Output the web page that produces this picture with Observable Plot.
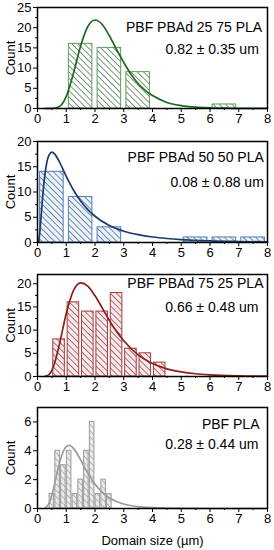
<!DOCTYPE html>
<html><head><meta charset="utf-8">
<script src="https://cdn.jsdelivr.net/npm/d3@7"></script>
<script src="https://cdn.jsdelivr.net/npm/@observablehq/plot@0.6"></script>
<style>
html,body{margin:0;padding:0;background:#fff;}
#chart{position:relative;width:274px;height:550px;overflow:hidden;background:#fff;}
#chart > svg{position:absolute;left:0;}
</style></head><body>
<svg width="0" height="0" style="position:absolute">
<defs>
<pattern id="h1" patternUnits="userSpaceOnUse" width="4.4" height="4.4" patternTransform="rotate(-45)">
<rect width="4.4" height="4.4" fill="#ffffff"/><line x1="2.2" y1="0" x2="2.2" y2="4.4" stroke="#5d7f5d" stroke-width="0.8"/></pattern>
<pattern id="h2" patternUnits="userSpaceOnUse" width="4.4" height="4.4" patternTransform="rotate(-45)">
<rect width="4.4" height="4.4" fill="#eaf2fb"/><line x1="2.2" y1="0" x2="2.2" y2="4.4" stroke="#55739a" stroke-width="0.8"/></pattern>
<pattern id="h3" patternUnits="userSpaceOnUse" width="4.4" height="4.4" patternTransform="rotate(-45)">
<rect width="4.4" height="4.4" fill="#fbe7ee"/><line x1="2.2" y1="0" x2="2.2" y2="4.4" stroke="#8e5a50" stroke-width="0.8"/></pattern>
<pattern id="h4" patternUnits="userSpaceOnUse" width="4.4" height="4.4" patternTransform="rotate(-45)">
<rect width="4.4" height="4.4" fill="#ebebeb"/><line x1="2.2" y1="0" x2="2.2" y2="4.4" stroke="#a8a8a8" stroke-width="0.8"/></pattern>
</defs></svg>
<div id="chart"></div>
<script>
// ---- data ----
const xTicks = [0, 1, 2, 3, 4, 5, 6, 7, 8];
const xMinorTicks = [0.5, 1.5, 2.5, 3.5, 4.5, 5.5, 6.5, 7.5];
const yLabel = "Count";
const xLabel = "Domain size (µm)";

const p1Title = "PBF PBAd 25 75 PLA";
const p1Stat = "0.82 ± 0.35 um";
const p1BinStart = [1, 2, 3, 6];
const p1BinWidth = 1;
const p1Counts = [16, 15, 9, 1];
const p1CurveX = [0.25, 0.5, 0.75, 1, 1.25, 1.5, 1.75, 2, 2.25, 2.5, 2.75, 3, 3.25, 3.5, 3.75, 4, 4.5, 5, 5.5, 6, 6.5, 7, 7.5, 8];
const p1CurveY = [0, 0.01, 0.42, 3.0, 8.7, 15.5, 20.3, 21.9, 20.8, 18.0, 14.6, 11.4, 8.5, 6.2, 4.5, 3.2, 1.5, 0.73, 0.35, 0.17, 0.08, 0.04, 0.02, 0.01];
const p1YTicks = [0, 5, 10, 15, 20, 25];
const p1YMinor = [2.5, 7.5, 12.5, 17.5, 22.5];

const p2Title = "PBF PBAd 50 50 PLA";
const p2Stat = "0.08 ± 0.88 um";
const p2BinStart = [0, 1, 2, 5, 6, 7];
const p2BinWidth = 1;
const p2Counts = [14, 9, 3, 1, 1, 1];
const p2CurveX = [0.02, 0.05, 0.1, 0.15, 0.2, 0.3, 0.4, 0.5, 0.6, 0.75, 1, 1.25, 1.5, 1.75, 2, 2.5, 3, 3.5, 4, 4.5, 5, 6, 7, 8];
const p2CurveY = [0.02, 0.58, 3.4, 7.0, 10.4, 15.1, 17.3, 17.9, 17.5, 16.1, 13.1, 10.4, 8.2, 6.5, 5.2, 3.35, 2.24, 1.55, 1.09, 0.79, 0.58, 0.33, 0.2, 0.12];
const p2YTicks = [0, 5, 10, 15, 20];
const p2YMinor = [2.5, 7.5, 12.5, 17.5];

const p3Title = "PBF PBAd 75 25 PLA";
const p3Stat = "0.66 ± 0.48 um";
const p3BinStart = [0.5, 1, 1.5, 2, 2.5, 3, 3.5, 4];
const p3BinWidth = 0.5;
const p3Counts = [8, 16, 14, 14, 18, 6, 5, 3];
const p3CurveX = [0.25, 0.4, 0.5, 0.6, 0.75, 1, 1.25, 1.5, 1.75, 2, 2.25, 2.5, 2.75, 3, 3.5, 4, 4.5, 5, 5.5, 6, 7, 8];
const p3CurveY = [0.02, 0.4, 1.3, 3.0, 6.6, 13.6, 18.5, 20.2, 19.5, 17.4, 14.8, 12.1, 9.7, 7.7, 4.65, 2.8, 1.65, 0.99, 0.59, 0.36, 0.14, 0.06];
const p3YTicks = [0, 5, 10, 15, 20];
const p3YMinor = [2.5, 7.5, 12.5, 17.5];

const p4Title = "PBF PLA";
const p4Stat = "0.28 ± 0.44 um";
const p4BinStart = [0.4, 0.6, 0.8, 1.0, 1.2, 1.4, 1.6, 1.8, 2.0, 2.2, 2.4];
const p4BinWidth = 0.2;
const p4Counts = [1, 4, 3, 4, 1, 2, 4, 6, 1, 2, 1];
const p4CurveX = [0.25, 0.4, 0.5, 0.6, 0.7, 0.8, 0.9, 1, 1.1, 1.2, 1.4, 1.6, 1.8, 2, 2.25, 2.5, 3, 3.5, 4, 5, 6, 7, 8];
const p4CurveY = [0.02, 0.33, 0.91, 1.74, 2.64, 3.42, 3.98, 4.29, 4.38, 4.28, 3.73, 2.99, 2.29, 1.69, 1.13, 0.74, 0.31, 0.13, 0.06, 0.01, 0, 0, 0];
const p4YTicks = [0, 2, 4, 6];
const p4YMinor = [1, 3, 5];

// ---- drawing ----
const FONT = "'Liberation Sans', Arial, Helvetica, sans-serif";
const fmt = d => String(d);

function panel(o) {
  const bars = o.starts.map((s, i) => ({x1: s, x2: s + o.bw, y: o.counts[i]}));
  const curve = o.cx.map((x, i) => ({x, y: o.cy[i]}));
  const marks = [
    Plot.rectY(bars, {x1: "x1", x2: "x2", y: "y", fill: `url(#${o.pat})`, stroke: o.edge, strokeWidth: 1, insetLeft: o.inset, insetRight: o.inset}),
    Plot.line(curve, {x: "x", y: "y", stroke: o.line, strokeWidth: 1.7, curve: "monotone-x"}),
    Plot.axisX({ticks: xTicks, tickFormat: fmt, tickSize: 4, tickPadding: 1, label: null, fontSize: 13}),
    Plot.axisX({ticks: xMinorTicks, tickSize: 2, text: null, label: null}),
    Plot.axisY({ticks: o.yTicks, tickFormat: fmt, tickSize: 4, tickPadding: 2, label: null, fontSize: 13}),
    Plot.axisY({ticks: o.yMinor, tickSize: 2, text: null, label: null}),
    Plot.frame({stroke: "#000", strokeWidth: 1.5}),
    Plot.text([yLabel], {text: d => d, frameAnchor: "left", textAnchor: "middle", lineAnchor: "middle", rotate: -90, dx: -27, fontSize: 13, fill: "#000"}),
    Plot.text([o.title], {text: d => d, frameAnchor: "top-right", textAnchor: "end", lineAnchor: "middle", dx: o.t1[0], dy: o.t1[1], fontSize: 14, fill: "#000"}),
    Plot.text([o.stat], {text: d => d, frameAnchor: "top-right", textAnchor: "end", lineAnchor: "middle", dx: o.t2[0], dy: o.t2[1], fontSize: 14, fill: "#000"})
  ];
  if (o.xLabel) marks.push(Plot.text([o.xLabel], {text: d => d, frameAnchor: "bottom", textAnchor: "middle", lineAnchor: "middle", dy: 32.7, fontSize: 13, fill: "#000"}));
  const svg = Plot.plot({
    width: 274, height: o.height,
    marginLeft: 37, marginRight: 7, marginTop: 7, marginBottom: o.height - 7 - o.plotH,
    x: {domain: [0, 8]},
    y: {domain: o.yDomain},
    style: {fontFamily: FONT, fontSize: "13px", color: "#000", background: "transparent", overflow: "visible"},
    marks
  });
  svg.style.top = o.top + "px";
  return svg;
}

const chart = document.getElementById("chart");
chart.append(
  panel({top: 0, height: 130, plotH: 101, starts: p1BinStart, bw: p1BinWidth, counts: p1Counts, cx: p1CurveX, cy: p1CurveY,
         yDomain: [0, 25], yTicks: p1YTicks, yMinor: p1YMinor, pat: "h1", edge: "#5c9c5c", line: "#1d6a20", inset: 2.6,
         title: p1Title, stat: p1Stat, t1: [-5.3, 19.7], t2: [-8.7, 42]}),
  panel({top: 134, height: 130, plotH: 101, starts: p2BinStart, bw: p2BinWidth, counts: p2Counts, cx: p2CurveX, cy: p2CurveY,
         yDomain: [0, 20], yTicks: p2YTicks, yMinor: p2YMinor, pat: "h2", edge: "#4f7db3", line: "#1d3b70", inset: 2.6,
         title: p2Title, stat: p2Stat, t1: [-3.7, 15.7], t2: [-3.7, 40.7]}),
  panel({top: 267, height: 131, plotH: 102, starts: p3BinStart, bw: p3BinWidth, counts: p3Counts, cx: p3CurveX, cy: p3CurveY,
         yDomain: [0, 22], yTicks: p3YTicks, yMinor: p3YMinor, pat: "h3", edge: "#a63a36", line: "#8a1f1a", inset: 1.4,
         title: p3Title, stat: p3Stat, t1: [-4, 9.3], t2: [-9, 32.7]}),
  panel({top: 400, height: 150, plotH: 101, starts: p4BinStart, bw: p4BinWidth, counts: p4Counts, cx: p4CurveX, cy: p4CurveY,
         yDomain: [0, 7], yTicks: p4YTicks, yMinor: p4YMinor, pat: "h4", edge: "#9a9a9a", line: "#9c9c9c", inset: 0.6,
         title: p4Title, stat: p4Stat, t1: [-8, 16.6], t2: [-9, 36.6], xLabel: xLabel})
);
</script>
</body></html>
